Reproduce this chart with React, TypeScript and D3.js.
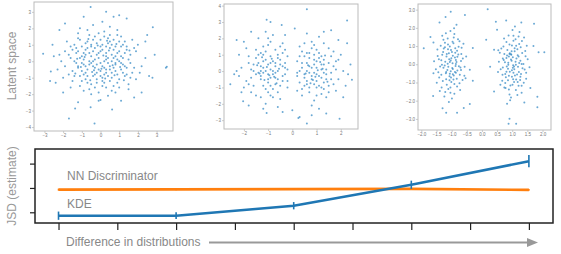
import React, { useEffect, useRef } from "react";
import * as d3 from "d3";

// latent samples (subset)
const latentA: [number, number][] = [
  [-0.1,0.2],[0.3,-0.5],[-0.7,0.8],[1.1,0.3],[0.5,1.2],[-1.2,-0.4],[0.2,-1.3],[-0.4,-0.9],[0.8,-0.2],[-0.9,0.1],
  [1.4,-0.8],[-0.3,1.5],[0.6,0.4],[-1.6,0.9],[0.1,0.7],[-0.6,-1.7],[1.9,0.6],[-0.2,-0.2],[0.9,1.6],[-1.1,1.3],
  [0.4,-0.9],[-0.8,-1.1],[1.2,1.0],[-1.9,-0.3],[0.0,-0.6],[0.7,-1.5],[-0.5,0.3],[1.6,-0.1],[-1.3,0.5],[0.3,0.9],
  [-0.1,-1.9],[2.1,-0.7],[-0.7,1.9],[0.5,-0.3],[-1.0,-0.6],[1.0,-1.1],[-0.4,0.6],[0.2,1.8],[-1.5,-1.2],[0.9,0.1],
  [-0.2,1.1],[1.3,0.5],[-0.9,-0.2],[0.6,-0.7],[-2.2,0.4],[0.1,-1.0],[1.7,1.3],[-0.6,0.0],[0.4,0.2],[-1.2,1.7],
  [0.8,-1.9],[-0.3,-0.4],[1.5,-1.4],[-0.8,0.4],[0.0,1.3],[-1.7,-0.8],[1.1,-0.5],[-0.5,-1.4],[0.7,0.7],[-1.4,0.0],
  [2.4,0.2],[-0.1,0.5],[0.3,-1.6],[-1.0,0.9],[1.2,-0.2],[-0.7,-0.5],[0.5,1.6],[-2.0,-1.0],[0.9,-0.8],[-0.4,2.2],
  [0.2,0.0],[1.8,-0.4],[-1.1,-1.5],[0.6,1.0],[-0.2,-1.1],[1.4,0.9],[-0.8,1.1],[0.1,-0.3],[-1.6,0.2],[1.0,0.6],
  [-0.5,0.9],[0.4,-2.1],[-1.3,-0.1],[0.8,0.3],[-0.1,1.7],[1.6,0.4],[-0.9,-0.8],[0.3,0.5],[-2.3,-0.5],[1.1,1.5],
  [-0.6,-0.2],[0.5,-1.2],[-1.2,0.6],[0.0,0.9],[1.3,-0.9],[-0.3,0.1],[0.7,-0.4],[-1.8,1.2],[0.2,-0.8],[-0.7,-1.3],
  [1.9,-1.1],[-0.4,1.3],[0.9,1.9],[-1.0,0.3],[0.1,-1.5],[1.2,0.2],[-1.5,-0.6],[0.6,0.0],[-0.2,-0.7],[2.0,1.0],
  [-0.8,0.7],[0.4,1.4],[-1.1,-0.9],[0.8,-0.6],[-0.5,-0.1],[1.5,0.1],[-0.1,-2.4],[-1.4,1.0],[0.3,0.3],[1.0,-1.6],
  [-0.6,1.6],[0.0,-0.1],[1.7,-0.7],[-1.2,-0.3],[0.5,0.8],[-0.3,-1.6],[1.1,0.9],[-2.1,0.0],[0.7,1.3],[-0.9,0.5],
  [0.2,-0.4],[1.4,-0.4],[-0.7,-0.9],[0.6,-1.0],[-1.6,-1.6],[0.1,1.0],[1.0,0.0],[-0.4,-0.3],[-1.1,2.0],[2.2,-0.3],
  [0.4,-0.1],[-0.2,0.4],[0.9,-1.3],[-1.3,0.8],[0.5,2.1],[-0.8,-0.3],[1.3,1.2],[-0.5,-2.0],[0.0,0.6],[-1.0,-1.2],
  [1.6,-1.0],[0.3,-0.7],[-1.9,0.6],[0.8,0.9],[-0.3,0.8],[1.2,-0.7],[-0.6,0.5],[0.1,-1.2],[-1.4,-0.9],[1.8,0.8],
  [-0.1,-0.5],[0.7,0.2],[-1.2,1.4],[0.4,1.1],[-0.9,-1.8],[1.1,-0.1],[-0.4,0.0],[2.6,-0.9],[0.2,1.5],[-1.7,0.4],
  [0.6,-1.8],[-0.7,1.2],[1.4,0.7],[-0.2,-1.3],[0.9,0.5],[-1.0,-0.1],[0.0,-0.9],[1.5,-1.7],[-0.5,1.0],[-2.4,-1.3],
  [0.3,0.1],[1.0,1.2],[-0.8,-0.7],[0.5,-0.5],[-1.5,0.7],[0.1,2.4],[1.3,-0.3],[-0.3,-0.8],[0.8,-0.1],[-1.1,0.2],
  [0.15,0.35],[-0.35,-0.55],[0.65,-0.25],[-0.85,0.25],[0.25,-1.05],[-0.15,0.95],[1.05,-0.35],[-0.55,-1.15],[0.45,0.65],[-1.25,0.15],
  [0.85,1.05],[-0.65,1.35],[1.25,-1.15],[-1.05,-0.35],[0.05,-0.45],[0.35,1.25],[-0.45,-0.65],[1.55,0.65],[-1.35,-0.75],[0.75,-0.85],
  [3.55,-0.33],[3.5,-0.4],[-3.07,0.45],[-0.53,3.29],[-1.69,-3.48],[-0.32,-3.78],[-1.36,-2.87],[2.8,2.07],[2.78,-1.0],
  [-2.66,-0.63],[-2.57,1.0],[0.62,-2.93],[0.0,-2.36],[-0.53,-2.8],[2.5,1.6],[-2.2,1.9],[1.4,2.6],[-0.9,2.7],[0.7,2.7],
  [2.2,-1.9],[-2.0,-1.9],[1.1,-2.4],[-1.9,2.3],[2.9,0.4],[2.4,1.2],[-2.7,-1.2],[0.3,3.0],[1.0,2.8],[-1.2,-2.5],
  [1.8,-2.2],[-2.5,0.3],
];

const latentB: [number, number][] = [
  [-0.9,0.1],[-1.3,-0.5],[-0.6,0.8],[-1.1,1.2],[-0.4,-0.3],[-1.6,0.4],[-0.8,-1.1],[-1.2,-0.1],[-0.5,1.5],[-1.9,-0.6],
  [-0.7,0.3],[-1.0,-0.7],[-1.4,1.0],[-0.3,0.5],[-1.7,-1.3],[-0.9,1.8],[-1.2,0.6],[-0.6,-0.5],[-1.5,-0.2],[-0.2,-1.0],
  [-1.0,0.4],[-0.8,-0.2],[-1.8,0.9],[-0.4,1.1],[-1.3,-1.6],[-0.7,-0.8],[-1.1,0.0],[-2.1,0.2],[-0.5,-1.7],[-1.4,2.0],
  [-0.9,-0.4],[-1.2,1.5],[-0.3,0.2],[-1.6,-0.9],[-0.8,0.6],[-1.0,-1.3],[-0.6,0.0],[-1.9,1.4],[-0.4,-0.6],[-1.3,0.3],
  [-1.1,-2.0],[-0.7,1.3],[-1.5,0.8],[-0.2,0.9],[-1.0,-0.2],[-0.8,2.2],[-1.7,-0.4],[-0.5,0.4],[-1.2,-0.9],[-0.9,0.9],
  [-1.4,-0.1],[-0.6,-1.3],[-2.0,-1.0],[-0.3,-0.2],[-1.1,0.7],[-0.8,-1.6],[-1.3,1.1],[-0.4,1.7],[-1.6,0.0],[-0.7,-0.1],
  [-1.0,1.6],[-1.5,-1.5],[-0.2,-0.6],[-1.2,0.2],[-0.9,-0.9],[-1.8,0.5],[-0.6,1.0],[-1.3,-0.3],[-0.5,-0.9],[-1.1,2.4],
  [-0.8,0.0],[-1.4,0.5],[-0.3,1.3],[-1.7,0.1],[-1.0,-0.5],[-0.6,-2.2],[-1.2,1.0],[-0.9,-1.5],[-2.2,-0.3],[-0.4,0.3],
  [-1.5,1.3],[-0.7,-0.4],[-1.1,-1.1],[-0.5,0.7],[-1.3,0.0],[-0.9,0.5],[-1.8,-0.8],[-0.2,0.1],[-1.0,2.0],[-0.7,0.5],
  [-1.05,0.25],[-0.75,-0.35],[-1.35,-0.15],[-0.55,0.15],[-1.15,-0.55],[-0.85,0.75],[-1.45,0.35],[-0.65,-0.75],[-1.25,0.85],[-0.95,-0.25],
  [0.9,-0.1],[1.3,0.4],[0.6,-0.8],[1.1,1.1],[0.4,0.2],[1.6,-0.5],[0.8,1.4],[1.2,-1.0],[0.5,-0.4],[1.9,0.7],
  [0.7,-1.3],[1.0,0.6],[1.4,-0.2],[0.3,0.9],[1.7,1.2],[0.9,-1.8],[1.2,0.1],[0.6,0.5],[1.5,-0.9],[0.2,-0.3],
  [1.0,-0.6],[0.8,0.2],[1.8,-1.2],[0.4,1.2],[1.3,1.7],[0.7,0.8],[1.1,-0.3],[2.1,0.0],[0.5,1.7],[1.4,-1.6],
  [0.9,0.4],[1.2,-1.4],[0.3,-0.7],[1.6,0.9],[0.8,-0.5],[1.0,1.3],[0.6,0.0],[1.9,-0.5],[0.4,-1.1],[1.3,-0.1],
  [1.1,2.1],[0.7,-1.0],[1.5,0.5],[0.2,0.6],[1.0,-0.2],[0.8,-2.1],[1.7,0.3],[0.5,-0.2],[1.2,0.9],[0.9,-0.8],
  [1.4,0.1],[0.6,1.1],[2.0,1.0],[0.3,0.0],[1.1,-0.9],[0.8,1.8],[1.3,-0.7],[0.4,-1.5],[1.6,-0.1],[0.7,0.3],
  [1.0,-1.5],[1.5,1.4],[0.2,-1.2],[1.2,0.4],[0.9,1.0],[1.8,0.1],[0.6,-0.6],[1.3,0.7],[0.5,0.9],[1.1,-2.3],
  [0.8,-0.3],[1.4,-0.5],[0.3,1.5],[1.7,-0.8],[1.0,0.2],[0.6,2.3],[1.2,-0.4],[0.9,1.6],[2.2,-0.9],[0.4,0.5],
  [1.5,-1.3],[0.7,-0.1],[1.1,0.8],[0.5,-0.9],[1.3,-1.1],[0.9,0.7],[1.8,0.6],[0.2,-0.1],[1.0,-1.0],[0.7,1.1],
  [0.95,-0.35],[1.25,0.15],[0.65,0.35],[1.45,-0.65],[0.85,-0.55],[1.15,0.55],[0.55,-0.15],[1.35,0.95],[0.75,-0.75],[1.05,0.05],
  [2.26,3.09],[0.6,3.78],[-1.06,3.13],[-2.56,-0.8],[2.46,-0.53],[0.6,-3.21],[1.95,-2.91],[-1.06,-2.56],[0.25,-2.87],
  [-1.2,-2.3],[-2.03,-1.85],[-2.3,0.0],[-0.44,2.82],[2.26,1.7],[-2.3,1.9],[-2.0,1.8],[1.6,2.5],[1.3,2.4],[-0.3,2.2],
  [-1.7,2.4],[-2.4,-0.2],[2.4,0.4],[2.1,-1.6],[-1.8,-2.1],[0.0,-2.4],[0.8,-2.7],[-0.4,-2.5],[1.4,-2.6],[-2.2,1.0],
  [0.1,2.6],[-2.1,-1.3],[2.3,-0.2],[1.9,1.9],[-0.9,3.0],[0.3,-2.8],
];

const latentC: [number, number][] = [
  [-1.03,0.21],[-1.18,-0.43],[-0.82,0.74],[-1.12,1.08],[-0.94,-0.83],[-1.31,0.52],[-0.71,-0.18],[-1.04,-1.27],[-1.22,0.93],[-0.86,-0.47],
  [-1.38,-0.12],[-0.93,1.47],[-1.07,-0.66],[-0.63,0.32],[-1.27,1.34],[-0.98,-0.21],[-0.77,0.96],[-1.16,-1.13],[-0.89,0.37],[-1.47,0.81],
  [-1.02,0.78],[-0.74,-1.04],[-1.13,0.03],[-1.34,-0.58],[-0.91,-1.62],[-0.84,0.12],[-1.19,1.71],[-1.06,-0.52],[-0.58,-0.63],[-1.42,0.28],
  [-1.09,0.61],[-0.87,-0.09],[-1.24,-1.77],[-0.79,1.38],[-0.97,1.23],[-1.29,-0.92],[-0.68,0.57],[-1.14,-0.31],[-0.92,1.98],[-1.52,-0.27],
  [-1.01,-0.97],[-0.81,-0.34],[-1.21,0.14],[-0.88,0.88],[-1.36,1.02],[-0.72,-1.41],[-1.11,-1.36],[-0.96,0.47],[-0.61,1.13],[-1.33,-1.28],
  [-0.83,-0.79],[-1.17,0.42],[-1.04,1.83],[-0.93,-0.61],[-1.08,0.27],[-1.41,-0.73],[-0.69,0.18],[-0.99,-1.88],[-1.23,-0.07],[-0.78,0.53],
  [-1.13,1.42],[-0.86,0.02],[-1.28,0.68],[-1.02,-0.72],[-0.57,-0.14],[-1.19,-0.49],[-0.84,2.17],[-1.06,0.98],[-1.49,-1.02],[-0.91,-1.08],
  [-1.12,0.83],[-0.73,-0.57],[-1.32,-0.02],[-0.97,0.06],[-0.82,-1.22],[-1.22,1.18],[-0.88,0.63],[-1.39,-1.47],[-1.07,-0.88],[-0.52,0.43],
  [-1.01,0.33],[-0.76,-0.11],[-1.18,-0.82],[-0.94,1.16],[-1.58,0.17],[-1.03,-0.38],[-0.67,0.91],[-1.09,-2.07],[-1.26,0.87],[-0.89,-0.42],
  [-1.46,0.46],[-0.64,-0.86],[-1.16,0.56],[-0.96,-0.26],[-1.27,-0.19],[-0.74,1.27],[-1.04,-1.56],[-0.86,0.24],[-1.34,0.22],[-0.99,0.68],
  [-1.11,-0.14],[-0.69,-0.32],[-1.21,-1.52],[-0.91,1.66],[-1.44,-0.44],[-0.81,0.41],[-1.06,0.12],[-0.54,-0.77],[-1.31,1.57],[-0.96,-0.55],
  [1.02,-0.19],[1.21,0.42],[0.79,-0.71],[1.13,1.02],[0.91,0.57],[1.29,-0.53],[0.72,0.23],[1.04,1.29],[1.18,-0.98],[0.83,0.48],
  [1.37,0.02],[0.89,-1.39],[1.08,0.71],[0.62,-0.28],[1.31,-1.18],[0.98,0.19],[0.77,-1.03],[1.23,1.12],[0.92,-0.41],[1.46,-0.79],
  [1.03,-0.82],[0.71,0.98],[1.12,-0.03],[1.33,0.62],[0.88,1.58],[0.82,-0.12],[1.17,-1.69],[0.97,0.52],[0.59,0.63],[1.41,-0.29],
  [1.09,-0.61],[0.87,0.08],[1.24,1.77],[0.78,-1.31],[1.01,-1.12],[1.28,0.93],[0.68,-0.58],[1.14,0.31],[0.93,-1.97],[1.51,0.27],
  [0.99,1.03],[0.81,0.34],[1.19,-0.13],[0.86,-0.88],[1.38,-1.01],[0.73,1.41],[1.11,1.37],[1.04,-0.47],[0.61,-1.13],[1.32,1.28],
  [0.84,0.79],[1.22,-0.42],[0.96,-1.83],[0.92,0.61],[1.07,-0.27],[1.43,0.73],[0.69,-0.18],[1.01,1.88],[1.23,0.07],[0.77,-0.53],
  [1.12,-1.42],[0.87,-0.02],[1.27,-0.68],[0.98,0.72],[0.56,0.14],[1.18,0.49],[0.83,-2.17],[1.06,-0.98],[1.48,1.02],[0.91,1.08],
  [1.13,-0.83],[0.74,0.57],[1.31,0.02],[1.03,-0.06],[0.81,1.22],[1.21,-1.18],[0.89,-0.63],[1.39,1.47],[1.08,0.88],[0.53,-0.43],
  [0.99,-0.33],[0.76,0.11],[1.17,0.82],[0.94,-1.16],[1.57,-0.17],[1.02,0.38],[0.67,-0.91],[1.09,2.07],[1.26,-0.87],[0.89,0.42],
  [1.46,-0.46],[0.64,0.86],[1.16,-0.56],[0.96,0.26],[1.27,0.19],[0.74,-1.27],[1.04,1.56],[0.86,-0.24],[1.34,-0.22],[0.99,-0.68],
  [1.11,0.14],[0.69,0.32],[1.21,1.52],[0.91,-1.66],[1.44,0.44],[0.81,-0.41],[1.06,-0.12],[0.54,0.77],[1.31,-1.57],[0.96,0.55],
  [-1.92,0.88],[-1.03,2.89],[-0.56,2.71],[0.19,3.02],[0.14,1.34],[0.27,-0.13],[2.06,0.66],[1.87,0.66],[1.83,-1.78],
  [1.83,-2.36],[0.91,-2.99],[0.88,-3.27],[1.13,-3.27],[-1.3,-2.42],[-0.82,-2.66],[-1.18,-2.66],[-1.61,-1.74],
  [0.46,2.34],[1.72,2.23],[-0.4,-2.18],[-1.7,1.5],[-1.6,-0.5],[-0.3,0.9],[-0.3,-0.9],[0.4,-1.5],[1.7,1.0],
  [1.6,-1.3],[-1.4,2.3],[-0.6,-2.4],[0.5,1.9],[1.3,2.3],[1.4,-2.1],[0.4,0.8],[-0.4,-0.3],[-1.6,1.2],[-1.2,2.6],[0.8,2.4],
];

// bottom chart
const steps = [0, 2, 4, 6, 8];
const kde = [-0.07, -0.07, 0.135, 0.565, 1.05];
const kdeErr = [0.085, 0.07, 0.075, 0.085, 0.125];
const nn = [0.465, 0.47, 0.475, 0.48, 0.46];
const nnErr = [0.02, 0.015, 0.015, 0.015, 0.02];
const xTicks = [0, 1, 2, 3, 4, 5, 6, 7, 8];
const yTicks = [0, 0.5, 1];

const panels = [
  { pts: latentA, box: [34, 2, 173, 131], xd: [-3.56, 3.88], yd: [-4.24, 3.6], xt: [-3, -2, -1, 0, 1, 2, 3], yt: [-4, -3, -2, -1, 0, 1, 2, 3], fmt: d3.format("d") },
  { pts: latentB, box: [224, 4, 358, 129], xd: [-2.82, 2.71], yd: [-3.54, 4.1], xt: [-2, -1, 0, 1, 2], yt: [-3, -2, -1, 0, 1, 2, 3, 4], fmt: d3.format("d") },
  { pts: latentC, box: [418, 4, 551, 130], xd: [-2.11, 2.28], yd: [-3.61, 3.31], xt: [-2, -1.5, -1, -0.5, 0, 0.5, 1, 1.5, 2], yt: [-3, -2, -1, 0, 1, 2, 3], fmt: d3.format(".1f") },
];

const FONT = "Liberation Sans, Arial, sans-serif";

const App = () => {
  const svgRef = useRef<SVGSVGElement>(null);

  useEffect(() => {
    const svg = d3.select(svgRef.current);
    svg.selectAll("*").remove();

    panels.forEach((p) => {
      const [x0, y0, x1, y1] = p.box;
      const x = d3.scaleLinear().domain(p.xd).range([x0, x1]);
      const y = d3.scaleLinear().domain(p.yd).range([y1, y0]);

      svg.append("g")
        .selectAll("circle")
        .data(p.pts)
        .enter()
        .append("circle")
        .attr("cx", (d) => x(d[0]))
        .attr("cy", (d) => y(d[1]))
        .attr("r", 1)
        .attr("fill", "#3a8cc6")
        .attr("fill-opacity", 0.75);

      const gx = svg.append("g")
        .attr("transform", `translate(0,${y1})`)
        .call(d3.axisBottom(x).tickValues(p.xt).tickSize(2).tickPadding(1).tickFormat(p.fmt as any));
      const gy = svg.append("g")
        .attr("transform", `translate(${x0},0)`)
        .call(d3.axisLeft(y).tickValues(p.yt).tickSize(2).tickPadding(1).tickFormat(p.fmt as any));
      [gx, gy].forEach((g) => {
        g.select(".domain").remove();
        g.selectAll("line").attr("stroke", "#999").attr("stroke-width", 0.5);
        g.selectAll("text").attr("fill", "#777").style("font-size", "4.5px").style("font-family", FONT);
      });

      svg.append("rect")
        .attr("x", x0).attr("y", y0)
        .attr("width", x1 - x0).attr("height", y1 - y0)
        .attr("fill", "none").attr("stroke", "#bbb").attr("stroke-width", 1);
    });

    svg.append("text")
      .attr("transform", "translate(16,66) rotate(-90)")
      .attr("text-anchor", "middle")
      .attr("fill", "#999")
      .style("font-size", "12px")
      .style("font-family", FONT)
      .text("Latent space");

    // JSD chart
    const L = 35, R = 553, T = 149, B = 223;
    const x = d3.scaleLinear().domain([-0.4, 8.41]).range([L, R]);
    const y = d3.scaleLinear().domain([-0.22, 1.3]).range([B, T]);

    svg.append("g")
      .attr("transform", `translate(0,${B})`)
      .call(d3.axisBottom(x).tickValues(xTicks).tickSize(7).tickFormat(() => ""))
      .call((g) => g.select(".domain").remove())
      .selectAll("line").attr("stroke", "#222").attr("stroke-width", 1.2);
    svg.append("g")
      .attr("transform", `translate(${L},0)`)
      .call(d3.axisLeft(y).tickValues(yTicks).tickSize(5).tickFormat(() => ""))
      .call((g) => g.select(".domain").remove())
      .selectAll("line").attr("stroke", "#222").attr("stroke-width", 1.2);

    const series = [
      { v: nn, e: nnErr, c: "#ff7f0e" },
      { v: kde, e: kdeErr, c: "#1f77b4" },
    ];
    series.forEach((s) => {
      const line = d3.line<number>().x((_, i) => x(steps[i])).y((d) => y(d));
      svg.append("path")
        .attr("d", line(s.v))
        .attr("fill", "none")
        .attr("stroke", s.c)
        .attr("stroke-width", 2.6);
      svg.append("g")
        .selectAll("line")
        .data(s.v)
        .enter()
        .append("line")
        .attr("x1", (_, i) => x(steps[i]))
        .attr("x2", (_, i) => x(steps[i]))
        .attr("y1", (d, i) => y(d - s.e[i]))
        .attr("y2", (d, i) => y(d + s.e[i]))
        .attr("stroke", s.c)
        .attr("stroke-width", 1.6);
    });

    svg.append("rect")
      .attr("x", L).attr("y", T)
      .attr("width", R - L).attr("height", B - T)
      .attr("fill", "none").attr("stroke", "#222").attr("stroke-width", 1.5);

    const label = (txt: string, px: number, py: number) =>
      svg.append("text")
        .attr("x", px).attr("y", py)
        .attr("fill", "#888")
        .style("font-size", "12px")
        .style("font-family", FONT)
        .text(txt);
    label("NN Discriminator", 67, 180);
    label("KDE", 67, 208);
    label("Difference in distributions", 66, 246);

    svg.append("text")
      .attr("transform", "translate(16,186) rotate(-90)")
      .attr("text-anchor", "middle")
      .attr("fill", "#999")
      .style("font-size", "12px")
      .style("font-family", FONT)
      .text("JSD (estimate)");

    svg.append("line")
      .attr("x1", 209).attr("x2", 529)
      .attr("y1", 242.5).attr("y2", 242.5)
      .attr("stroke", "#999").attr("stroke-width", 1.8);
    svg.append("path")
      .attr("d", "M527,238 L538,242.5 L527,247 Z")
      .attr("fill", "#999");
  }, []);

  return (
    <svg ref={svgRef} width={561} height={254}
      style={{ position: "absolute", left: 0, top: 0, background: "#fff" }} />
  );
};

export default App;
